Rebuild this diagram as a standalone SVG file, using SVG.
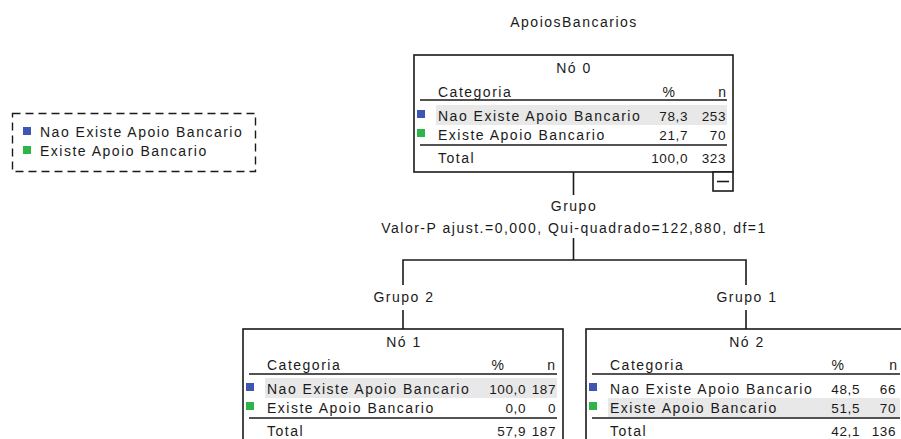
<svg xmlns="http://www.w3.org/2000/svg" width="901" height="439" viewBox="0 0 901 439">
  <style>
    text { font-family: "Liberation Sans", Arial, sans-serif; font-size: 14px; letter-spacing: 1.5px; fill: #1a1a1a; }
    .mid { text-anchor: middle; }
    .end { text-anchor: end; }
    .num { text-anchor: end; font-size: 13.5px; letter-spacing: 0.6px; }
    .box { fill: #ffffff; stroke: #1a1a1a; stroke-width: 1.6; }
    .rule { stroke: #1a1a1a; stroke-width: 1.6; }
    .hl { fill: #e8e8e8; }
    .c0 { fill: #3d55b4; }
    .c1 { fill: #2cb64a; }
    .link { fill: none; stroke: #1a1a1a; stroke-width: 1.6; }
    .legend { fill: #ffffff; stroke: #1a1a1a; stroke-width: 1.4; stroke-dasharray: 8 5; }
  </style>

  <rect width="901" height="439" fill="#ffffff"/>

  <!-- title -->
  <text class="mid" x="574" y="27">ApoiosBancarios</text>

  <!-- legend -->
  <g id="legend">
    <rect class="legend" x="12.5" y="113.5" width="243" height="58"/>
    <rect class="c0" x="23" y="127" width="8" height="8"/>
    <text x="40" y="137">Nao Existe Apoio Bancario</text>
    <rect class="c1" x="23" y="146" width="8" height="8"/>
    <text x="40" y="156">Existe Apoio Bancario</text>
  </g>

  <!-- connectors and split labels -->
  <g id="connectors">
    <path class="link" d="M573.5 172 V195"/>
    <path class="link" d="M573.5 238 V260 M403 285 V260 H746 V285"/>
    <path class="link" d="M403 310 V329 M746 310 V329"/>
    <text class="mid" x="574" y="211">Grupo</text>
    <text class="mid" x="574" y="233">Valor-P ajust.=0,000, Qui-quadrado=122,880, df=1</text>
    <text class="mid" x="404" y="302">Grupo 2</text>
    <text class="mid" x="747" y="302">Grupo 1</text>
  </g>

  <!-- Nó 0 -->
  <g id="node0">
    <rect class="box" x="414" y="55" width="319" height="117"/>
    <rect class="hl" x="436" y="105" width="291" height="20"/>
    <text class="mid" x="574" y="73">Nó 0</text>
    <text x="438" y="97">Categoria</text>
    <text class="end" x="676.5" y="97">%</text>
    <text class="end" x="727.5" y="97">n</text>
    <line class="rule" x1="420" y1="100" x2="727" y2="100"/>
    <rect class="c0" x="417" y="110" width="8" height="8"/>
    <text x="438" y="121">Nao Existe Apoio Bancario</text>
    <text class="num" x="688" y="121">78,3</text>
    <text class="num" x="726" y="121">253</text>
    <rect class="c1" x="417" y="129" width="8" height="8"/>
    <text x="438" y="140">Existe Apoio Bancario</text>
    <text class="num" x="688" y="140">21,7</text>
    <text class="num" x="726" y="140">70</text>
    <line class="rule" x1="420" y1="145" x2="727" y2="145"/>
    <text x="438" y="163">Total</text>
    <text class="num" x="688" y="163">100,0</text>
    <text class="num" x="726" y="163">323</text>
    <rect class="box" x="713" y="172" width="20" height="19"/>
    <line class="rule" x1="717" y1="181.5" x2="729" y2="181.5"/>
  </g>

  <!-- Nó 1 -->
  <g id="node1">
    <rect class="box" x="243" y="329" width="320" height="117"/>
    <rect class="hl" x="265" y="378" width="292" height="20"/>
    <text class="mid" x="404" y="347">Nó 1</text>
    <text x="267" y="370">Categoria</text>
    <text class="end" x="505.5" y="370">%</text>
    <text class="end" x="556.5" y="370">n</text>
    <line class="rule" x1="249" y1="374" x2="557" y2="374"/>
    <rect class="c0" x="246" y="383" width="8" height="8"/>
    <text x="267" y="394">Nao Existe Apoio Bancario</text>
    <text class="num" x="526" y="394">100,0</text>
    <text class="num" x="556" y="394">187</text>
    <rect class="c1" x="246" y="402" width="8" height="8"/>
    <text x="267" y="413">Existe Apoio Bancario</text>
    <text class="num" x="526" y="413">0,0</text>
    <text class="num" x="556" y="413">0</text>
    <line class="rule" x1="249" y1="418" x2="557" y2="418"/>
    <text x="267" y="436">Total</text>
    <text class="num" x="526" y="436">57,9</text>
    <text class="num" x="556" y="436">187</text>
  </g>

  <!-- Nó 2 -->
  <g id="node2">
    <rect class="box" x="586" y="329" width="320" height="117"/>
    <rect class="hl" x="608" y="398" width="292" height="19"/>
    <text class="mid" x="747" y="347">Nó 2</text>
    <text x="610" y="370">Categoria</text>
    <text class="end" x="845.5" y="370">%</text>
    <text class="end" x="898.5" y="370">n</text>
    <line class="rule" x1="592" y1="374" x2="900" y2="374"/>
    <rect class="c0" x="589" y="383" width="8" height="8"/>
    <text x="610" y="394">Nao Existe Apoio Bancario</text>
    <text class="num" x="860" y="394">48,5</text>
    <text class="num" x="896" y="394">66</text>
    <rect class="c1" x="589" y="402" width="8" height="8"/>
    <text x="610" y="413">Existe Apoio Bancario</text>
    <text class="num" x="860" y="413">51,5</text>
    <text class="num" x="896" y="413">70</text>
    <line class="rule" x1="592" y1="418" x2="900" y2="418"/>
    <text x="610" y="436">Total</text>
    <text class="num" x="860" y="436">42,1</text>
    <text class="num" x="896" y="436">136</text>
  </g>
</svg>
